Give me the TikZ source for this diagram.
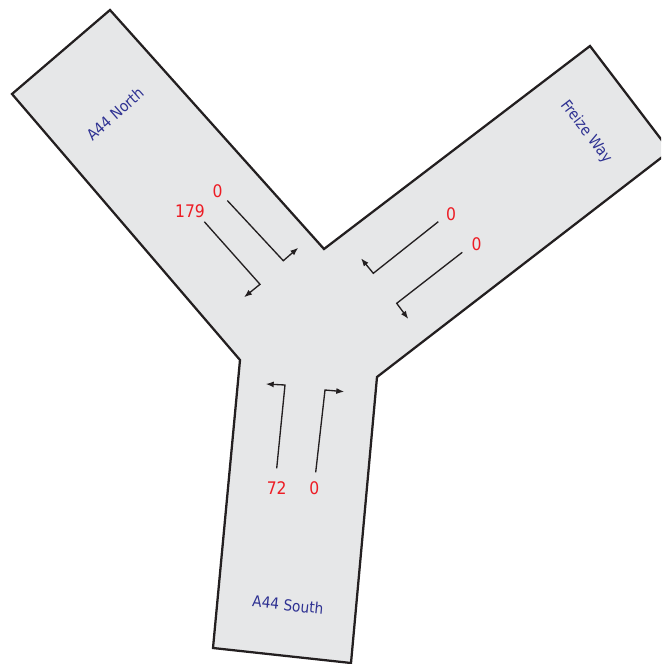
\documentclass[tikz,border=0pt]{standalone}
\usepackage{fontspec}
\setmainfont{DejaVu Sans Condensed}
\usetikzlibrary{arrows.meta}
\definecolor{roadfill}{HTML}{E6E7E8}
\definecolor{roadedge}{HTML}{231F20}
\definecolor{countred}{HTML}{ED1C24}
\definecolor{roadname}{HTML}{2E3192}
\tikzset{
  road/.style={fill=roadfill,draw=roadedge,line width=1.7pt,line join=miter},
  lanearrow/.style={draw=roadedge,line width=1pt,-{Latex[length=6pt,width=4.5pt]}},
  count/.style={text=countred,font=\fontsize{13}{15}\selectfont,inner sep=0pt},
  rname/.style={text=roadname,font=\fontsize{11.5}{13}\selectfont,inner sep=0pt}
}
\begin{document}
\begin{tikzpicture}[x=0.75pt,y=-0.75pt]
\useasboundingbox (0,0) rectangle (661,664);
\clip (0,0) rectangle (661,664);
% road outline
\coordinate (nl) at (12,94);
\coordinate (nr) at (110,10);
\coordinate (ne) at (324,249);
\coordinate (et) at (590,46);
\coordinate (eb) at (670,151);
\coordinate (es) at (377,377);
\coordinate (sr) at (351,663);
\coordinate (sl) at (213,648);
\coordinate (ns) at (240,360);
\path[road] (nl) -- (nr) -- (ne) -- (et) -- (eb) -- (es) -- (sr) -- (sl) -- (ns) -- cycle;
% road names
\node[rname,rotate=41.5] (nname) at (115,114) {A44 North};
\node[rname,rotate=-52.5] (ename) at (586,132) {Freize Way};
\node[rname,rotate=-6] (sname) at (288,605) {A44 South};
% north arm
\coordinate (n1s) at (227.3,200.5);
\coordinate (n1b) at (283.3,260.7);
\coordinate (n1t) at (298.3,247.7);
\coordinate (n2s) at (204.3,221.7);
\coordinate (n2b) at (260,284.3);
\coordinate (n2t) at (244,297.3);
\draw[lanearrow] (n1s) -- (n1b) -- (n1t);
\draw[lanearrow] (n2s) -- (n2b) -- (n2t);
\node[count] (n1c) at (217.7,191) {0};
\node[count] (n2c) at (190,211) {179};
% east arm
\coordinate (e1s) at (438.3,221.7);
\coordinate (e1b) at (373.3,273.3);
\coordinate (e1t) at (361,258.3);
\coordinate (e2s) at (462.3,252.3);
\coordinate (e2b) at (396.7,303.3);
\coordinate (e2t) at (408.3,319);
\draw[lanearrow] (e1s) -- (e1b) -- (e1t);
\draw[lanearrow] (e2s) -- (e2b) -- (e2t);
\node[count] (e1c) at (451,214) {0};
\node[count] (e2c) at (476.7,244) {0};
% south arm
\coordinate (s1s) at (276.7,468.3);
\coordinate (s1b) at (285,385);
\coordinate (s1t) at (265.7,384);
\coordinate (s2s) at (315.7,472.3);
\coordinate (s2b) at (325,390);
\coordinate (s2t) at (344.3,391.7);
\draw[lanearrow] (s1s) -- (s1b) -- (s1t);
\draw[lanearrow] (s2s) -- (s2b) -- (s2t);
\node[count] (s1c) at (276.7,488.3) {72};
\node[count] (s2c) at (314.3,488.3) {0};
\end{tikzpicture}
\end{document}
